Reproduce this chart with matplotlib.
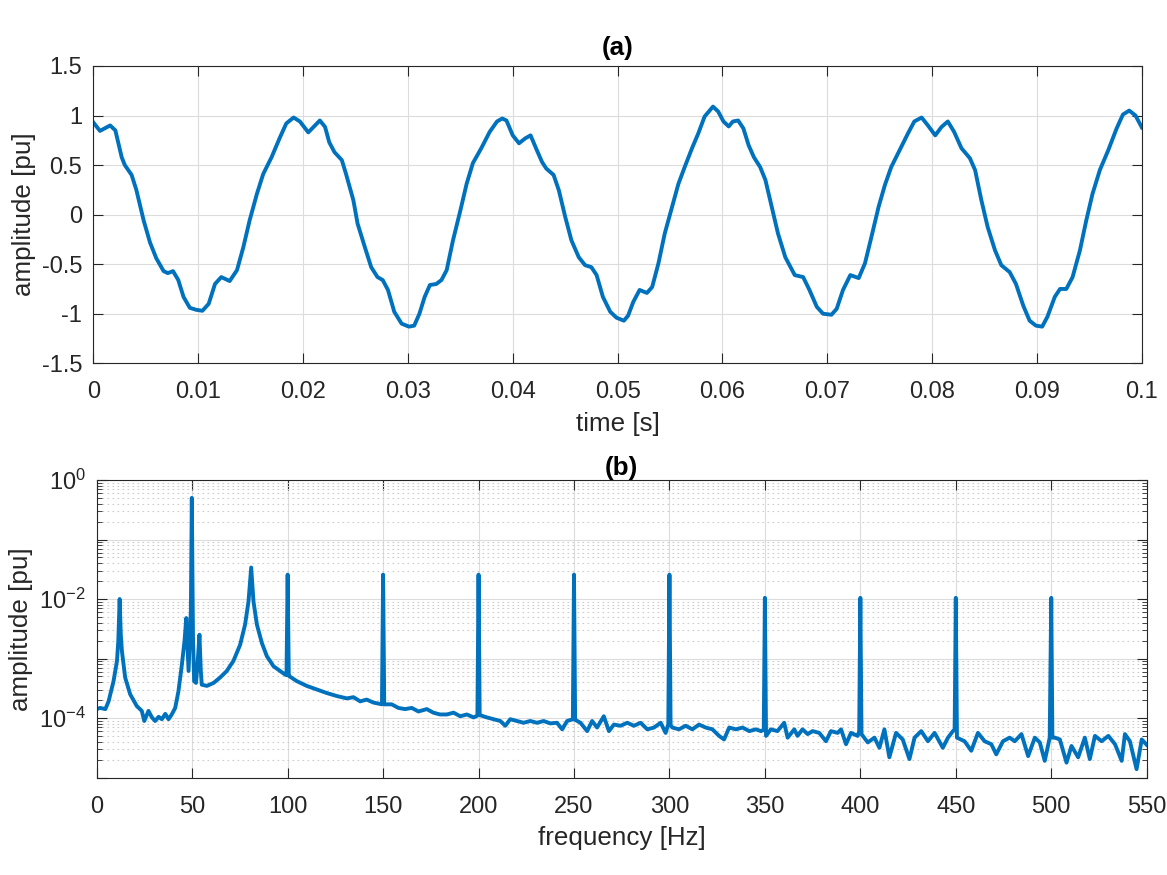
"""
(a) time signal and (b) amplitude spectrum, MATLAB style
"""
import matplotlib
matplotlib.use('Agg')
import matplotlib.pyplot as plt
from matplotlib.ticker import LogLocator, NullFormatter, FixedLocator
import numpy as np

plt.rcParams['font.family'] = ['Liberation Sans', 'DejaVu Sans']
plt.rcParams['mathtext.fontset'] = 'custom'
plt.rcParams['mathtext.rm'] = 'Liberation Sans'
plt.rcParams['axes.unicode_minus'] = False

# (a) time signal
time_s = [0.0, 0.00063, 0.0016, 0.0021, 0.0027, 0.0030, 0.00365, 0.0041, 0.0048,
          0.0054, 0.0060, 0.0067, 0.0071, 0.0076, 0.0081, 0.0086, 0.0092, 0.0098,
          0.0104, 0.0110, 0.0116, 0.0122, 0.0130, 0.0137, 0.0143, 0.0149, 0.0156,
          0.0162, 0.0170, 0.0178, 0.0184, 0.0191, 0.0197, 0.0205, 0.0210, 0.0216,
          0.0221, 0.0225, 0.0230, 0.0237, 0.0241, 0.0248, 0.0252, 0.0259, 0.0265,
          0.0271, 0.0276, 0.0281, 0.0287, 0.0294, 0.0301, 0.0306, 0.0311, 0.0316,
          0.0321, 0.0327, 0.0332,
          0.0337, 0.0343, 0.0350, 0.0356, 0.0362, 0.0370, 0.0378, 0.0385, 0.0390,
          0.0394, 0.0400, 0.0406, 0.0412, 0.0417, 0.0423, 0.0428, 0.0432, 0.0439,
          0.0444, 0.0450, 0.0456, 0.0463, 0.0469, 0.0475, 0.0480, 0.0486, 0.0493,
          0.0499, 0.0506, 0.0510, 0.0515, 0.0521, 0.0528, 0.0533, 0.0539, 0.0545,
          0.0552, 0.0558, 0.0564, 0.0571, 0.0577, 0.0583, 0.0591, 0.0596, 0.0601,
          0.0606, 0.0610, 0.0615, 0.0620, 0.0625, 0.0630, 0.0636, 0.0641, 0.0647,
          0.0653, 0.0660,
          0.0669, 0.0677, 0.0683, 0.0690, 0.0696, 0.0704, 0.0709, 0.0715, 0.0722,
          0.0730, 0.0736, 0.0742, 0.0749, 0.0755, 0.0761, 0.0769, 0.0777, 0.0783,
          0.0790, 0.0796, 0.0803, 0.0809, 0.0815, 0.0821, 0.0828, 0.0836, 0.0841,
          0.0847, 0.0853, 0.0860, 0.0866, 0.0874, 0.0880, 0.0887, 0.0893, 0.0899,
          0.0905, 0.0910, 0.0917, 0.0922, 0.0928, 0.0934, 0.0941, 0.0947, 0.0953,
          0.0960, 0.0968, 0.0976, 0.0982, 0.0988, 0.0994, 0.1000]
amp_pu = [0.93, 0.845, 0.90, 0.85, 0.58, 0.50, 0.40, 0.25, -0.06,
          -0.28, -0.44, -0.57, -0.59, -0.57, -0.66, -0.83, -0.94, -0.96,
          -0.97, -0.90, -0.70, -0.63, -0.67, -0.56, -0.33, -0.06, 0.21,
          0.41, 0.58, 0.78, 0.92, 0.98, 0.94, 0.83, 0.885, 0.95,
          0.885, 0.73, 0.63, 0.55, 0.41, 0.145, -0.09, -0.33, -0.53,
          -0.63, -0.66, -0.76, -0.98, -1.10, -1.13, -1.12, -1.00, -0.83,
          -0.71, -0.70, -0.66,
          -0.56, -0.26, 0.04, 0.31, 0.52, 0.67, 0.835, 0.94, 0.97,
          0.95, 0.80, 0.72, 0.77, 0.80, 0.65, 0.53, 0.465, 0.40,
          0.245, -0.02, -0.26, -0.43, -0.51, -0.53, -0.61, -0.83, -0.98,
          -1.04, -1.07, -1.02, -0.88, -0.76, -0.79, -0.73, -0.49, -0.19,
          0.08, 0.31, 0.48, 0.67, 0.82, 0.99, 1.09, 1.04, 0.94,
          0.89, 0.94, 0.95, 0.87, 0.70, 0.58, 0.48, 0.35, 0.08,
          -0.19, -0.43,
          -0.61, -0.63, -0.76, -0.93, -1.00, -1.01, -0.95, -0.76, -0.61,
          -0.64, -0.49, -0.23, 0.08, 0.30, 0.48, 0.65, 0.82, 0.94,
          0.98, 0.90, 0.80, 0.885, 0.94, 0.835, 0.67, 0.57, 0.45,
          0.145, -0.125, -0.36, -0.51, -0.58, -0.70, -0.92, -1.07, -1.12,
          -1.13, -1.03, -0.83, -0.75, -0.75, -0.63, -0.36, -0.06, 0.21,
          0.45, 0.65, 0.87, 1.01, 1.05, 1.00, 0.88]

# (b) amplitude spectrum (log10 of amplitude)
freq_hz = [0.0, 1.8, 4.5, 6.2, 8.8, 10.6, 11.3, 12.0, 12.6, 13.2, 14.9, 17.5,
           21.0, 23.6, 24.9, 27.1, 28.9, 30.6, 32.4, 34.1, 35.9, 37.6, 39.3,
           41.1, 42.8, 44.6, 46.0, 46.9, 48.1, 49.3, 49.8, 50.4, 51.0, 52.0,
           53.0, 53.8, 54.5, 55.0, 57.7, 61.2, 64.6, 68.1, 71.6, 75.1, 77.7,
           79.5, 80.9, 82.1, 83.9, 86.5, 89.1, 92.6, 96.1, 98.7, 99.4, 100.0,
           100.6, 101.0, 104.8, 110.0, 115.3, 120.5, 125.7, 131.0, 134.5,
           138.0, 141.4, 144.9, 149.4, 150.0, 150.6, 154.5, 158.0, 161.5,
           165.0, 168.5, 172.9, 176.3, 179.8, 183.4, 186.9, 190.4, 193.9,
           197.4, 199.4, 200.0, 200.6, 204.4, 207.9, 211.4, 214.0, 216.6,
           220.1, 223.6, 227.1, 230.6, 234.1, 237.6, 241.1, 243.8, 246.4,
           249.4, 250.0, 250.6, 253.4, 256.9, 259.5, 262.1, 265.6, 268.3,
           270.9, 274.4, 277.9, 281.4, 284.9, 288.4, 291.9, 295.4, 298.0,
           299.4, 300.0, 300.6, 301.5, 305.0, 308.5, 312.0, 315.5, 319.0,
           322.5, 326.0, 328.6, 331.3, 334.8, 338.3, 341.8, 345.3, 347.9,
           349.4, 350.0, 350.6, 353.1, 356.6, 360.1, 361.9, 365.4, 367.1,
           369.7, 372.4, 375.0, 378.5, 382.0, 384.6, 388.1, 389.9, 392.5,
           395.1, 398.6, 399.4, 400.0, 400.6, 403.9, 407.4, 410.0, 412.6,
           415.2, 418.7, 422.2, 425.7, 428.4, 431.9, 435.4, 438.9, 443.2,
           445.9, 448.5, 449.4, 450.0, 450.6, 454.6, 458.1, 461.6, 465.1,
           468.6, 471.2, 474.7, 478.2, 480.9, 484.4, 487.9, 491.4, 494.0,
           496.6, 499.2, 500.0, 500.6, 501.9, 504.5, 508.0, 510.6, 514.1,
           517.6, 520.2, 522.9, 526.4, 529.9, 533.4, 536.9, 538.6, 541.2,
           544.7, 547.4, 550.0]
spec_log10 = [-3.85, -3.83, -3.85, -3.72, -3.38, -3.04, -2.70, -2.00, -2.60, -2.88, -3.32, -3.60,
              -3.80, -3.88, -4.05, -3.88, -3.99, -4.05, -3.98, -4.02, -3.93, -4.02, -3.94,
              -3.83, -3.55, -3.10, -2.70, -2.32, -3.21, -2.20, -0.30, -2.60, -3.38, -3.41,
              -3.00, -2.60, -3.20, -3.44, -3.46, -3.41, -3.32, -3.21, -3.04, -2.77, -2.43,
              -2.04, -1.47, -2.04, -2.43, -2.74, -2.96, -3.13, -3.21, -3.27, -3.28, -1.59,
              -3.29, -3.30, -3.38, -3.46, -3.52, -3.58, -3.63, -3.67, -3.65,
              -3.72, -3.69, -3.74, -3.77, -1.59, -3.77, -3.77, -3.83, -3.85,
              -3.83, -3.89, -3.85, -3.91, -3.94, -3.94, -3.91, -3.97, -3.94,
              -3.99, -3.96, -1.59, -3.95, -3.99, -4.02, -4.05, -4.13, -4.02,
              -4.05, -4.08, -4.05, -4.08, -4.05, -4.09, -4.08, -4.19, -4.05,
              -4.02, -1.59, -4.03, -4.08, -4.22, -4.05, -4.16, -3.97, -4.22,
              -4.11, -4.13, -4.08, -4.13, -4.08, -4.19, -4.16, -4.08, -4.25,
              -4.10, -1.59, -4.12, -4.16, -4.19, -4.13, -4.19, -4.11, -4.16,
              -4.19, -4.30, -4.36, -4.16, -4.19, -4.16, -4.22, -4.19, -4.22,
              -4.20, -1.98, -4.30, -4.19, -4.22, -4.08, -4.33, -4.19, -4.30,
              -4.19, -4.27, -4.22, -4.25, -4.39, -4.22, -4.25, -4.19, -4.44,
              -4.25, -4.30, -4.22, -1.98, -4.27, -4.41, -4.33, -4.50, -4.19,
              -4.66, -4.25, -4.36, -4.69, -4.33, -4.22, -4.39, -4.25, -4.50,
              -4.33, -4.22, -4.20, -1.98, -4.33, -4.39, -4.55, -4.25, -4.39,
              -4.44, -4.61, -4.39, -4.33, -4.39, -4.27, -4.64, -4.33, -4.41,
              -4.72, -4.33, -1.98, -4.33, -4.33, -4.36, -4.75, -4.47, -4.66,
              -4.33, -4.69, -4.30, -4.39, -4.30, -4.44, -4.72, -4.27, -4.39,
              -4.86, -4.36, -4.45]

t_ticks = [0, 0.01, 0.02, 0.03, 0.04, 0.05, 0.06, 0.07, 0.08, 0.09, 0.1]
t_labels = ['0', '0.01', '0.02', '0.03', '0.04', '0.05', '0.06', '0.07', '0.08', '0.09', '0.1']
a_ticks = [-1.5, -1, -0.5, 0, 0.5, 1, 1.5]
a_labels = ['-1.5', '-1', '-0.5', '0', '0.5', '1', '1.5']
f_ticks = [0, 50, 100, 150, 200, 250, 300, 350, 400, 450, 500, 550]
s_ticks = [1e-5, 1e-4, 1e-3, 1e-2, 1e-1, 1e0]
s_labels = ['', r'$\mathregular{10^{-4}}$', '', r'$\mathregular{10^{-2}}$', '', r'$\mathregular{10^{0}}$']

BLUE = '#0072BD'
AX_COL = '#262626'
TICK_FS = 17
LABEL_FS = 18.7


def style_axes(ax):
    for sp in ax.spines.values():
        sp.set_color(AX_COL)
        sp.set_linewidth(0.8)
    ax.tick_params(which='both', direction='in', top=True, right=True,
                   colors=AX_COL, labelsize=TICK_FS)
    ax.tick_params(axis='x', which='both', pad=13)
    ax.tick_params(axis='y', which='both', pad=8)
    ax.tick_params(which='major', length=7)
    ax.tick_params(which='minor', length=3.5)
    ax.grid(True, which='major', color='#dcdcdc', linewidth=0.8)
    ax.set_axisbelow(True)


fig = plt.figure(figsize=(11.67, 8.75), dpi=100)

# (a)
ax1 = fig.add_axes([0.0800, 0.5848, 0.8984, 0.3398])
ax1.plot(time_s, amp_pu, color=BLUE, linewidth=2.8, solid_joinstyle='round')
ax1.set_xlim(0, 0.1)
ax1.set_ylim(-1.5, 1.5)
ax1.set_xticks(t_ticks)
ax1.set_xticklabels(t_labels)
ax1.set_yticks(a_ticks)
ax1.set_yticklabels(a_labels)
style_axes(ax1)
ax1.set_xlabel('time [s]', fontsize=LABEL_FS, color=AX_COL, labelpad=6)
ax1.set_ylabel('amplitude [pu]', fontsize=LABEL_FS, color=AX_COL, labelpad=4)
ax1.set_title('(a)', fontsize=LABEL_FS, fontweight='bold', pad=8)

# (b)
ax2 = fig.add_axes([0.0829, 0.1114, 0.8997, 0.3400])
ax2.plot(freq_hz, np.power(10.0, spec_log10), color=BLUE, linewidth=2.8,
         solid_joinstyle='round')
ax2.set_yscale('log')
ax2.set_xlim(0, 550)
ax2.set_ylim(1e-5, 1)
ax2.set_xticks(f_ticks)
ax2.yaxis.set_major_locator(FixedLocator(s_ticks))
ax2.set_yticklabels(s_labels)
ax2.yaxis.set_minor_locator(LogLocator(base=10, subs=np.arange(2, 10), numticks=20))
ax2.yaxis.set_minor_formatter(NullFormatter())
style_axes(ax2)
ax2.grid(True, which='minor', axis='y', color='#cccccc', linewidth=0.8,
         linestyle=(0, (1.5, 3)))
ax2.set_xlabel('frequency [Hz]', fontsize=LABEL_FS, color=AX_COL, labelpad=6)
ax2.set_ylabel('amplitude [pu]', fontsize=LABEL_FS, color=AX_COL, labelpad=4)
ax2.set_title('(b)', fontsize=LABEL_FS, fontweight='bold', pad=3)

fig.savefig('out.png', dpi=100)
